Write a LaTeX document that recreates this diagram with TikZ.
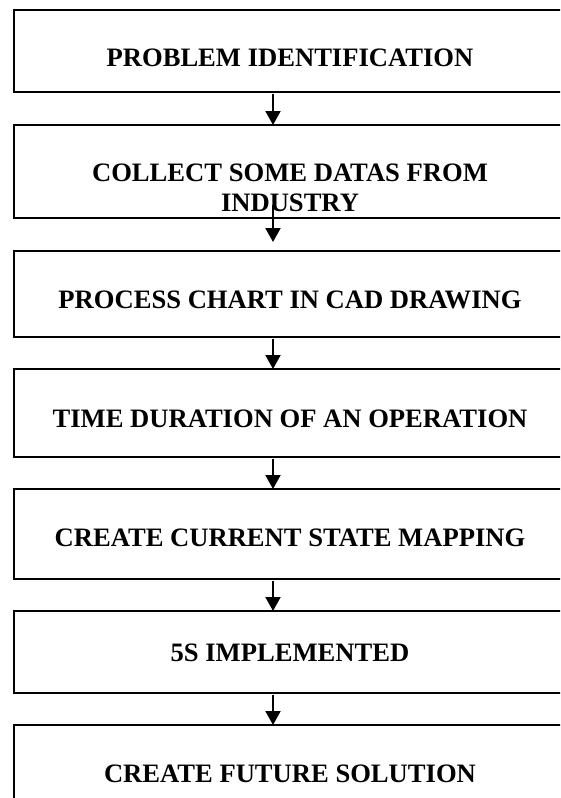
\documentclass[tikz,border=0pt]{standalone}
\usepackage{fontspec}
\setmainfont{Liberation Serif}
\usetikzlibrary{arrows.meta}
\begin{document}
\begin{tikzpicture}[x=1pt,y=-1pt,
  stepbox/.style={draw=black,line width=2.2pt,rectangle,minimum width=552pt,inner sep=0pt,outer sep=0pt},
  steptext/.style={anchor=base,inner sep=0pt,font=\fontsize{26.6}{30.5}\selectfont\bfseries,align=center},
  arr/.style={line width=2pt,-{Triangle[width=15pt,length=14pt]}}]
\useasboundingbox (0,0) rectangle (560,798);
\clip (0,0) rectangle (560,798);
\fill[white] (0,0) rectangle (560,798);
\node[stepbox,minimum height=82pt] (b1) at (290,51) {};
\node[stepbox,minimum height=93pt] (b2) at (290,171.5) {};
\node[stepbox,minimum height=86pt] (b3) at (290,294) {};
\node[stepbox,minimum height=88pt] (b4) at (290,413) {};
\node[stepbox,minimum height=90pt] (b5) at (290,534) {};
\node[stepbox,minimum height=82pt] (b6) at (290,652) {};
\node[stepbox,minimum height=82pt] (b7) at (290,766) {};
\node[steptext] (t1) at (290,66) {PROBLEM IDENTIFICATION};
\node[steptext] (t2a) at (290,181) {COLLECT SOME DATAS FROM};
\node[steptext] (t2b) at (290,211.5) {INDUSTRY};
\node[steptext] (t3) at (290,308) {PROCESS CHART IN CAD DRAWING};
\node[steptext] (t4) at (290,427) {TIME DURATION OF AN OPERATION};
\node[steptext] (t5) at (290,546) {CREATE CURRENT STATE MAPPING};
\node[steptext] (t6) at (290,661) {5S IMPLEMENTED};
\node[steptext] (t7) at (290,782) {CREATE FUTURE SOLUTION};
\coordinate (ax) at (273,0);
\draw[arr] ([yshift=-2pt]b1.south -| ax) -- (b2.north -| ax);
\draw[arr] ([yshift=13pt]b2.south -| ax) -- ([yshift=9pt]b3.north -| ax);
\draw[arr] ([yshift=-2pt]b3.south -| ax) -- (b4.north -| ax);
\draw[arr] ([yshift=-2pt]b4.south -| ax) -- (b5.north -| ax);
\draw[arr] ([yshift=-2pt]b5.south -| ax) -- (b6.north -| ax);
\draw[arr] ([yshift=-2pt]b6.south -| ax) -- (b7.north -| ax);
\end{tikzpicture}
\end{document}
